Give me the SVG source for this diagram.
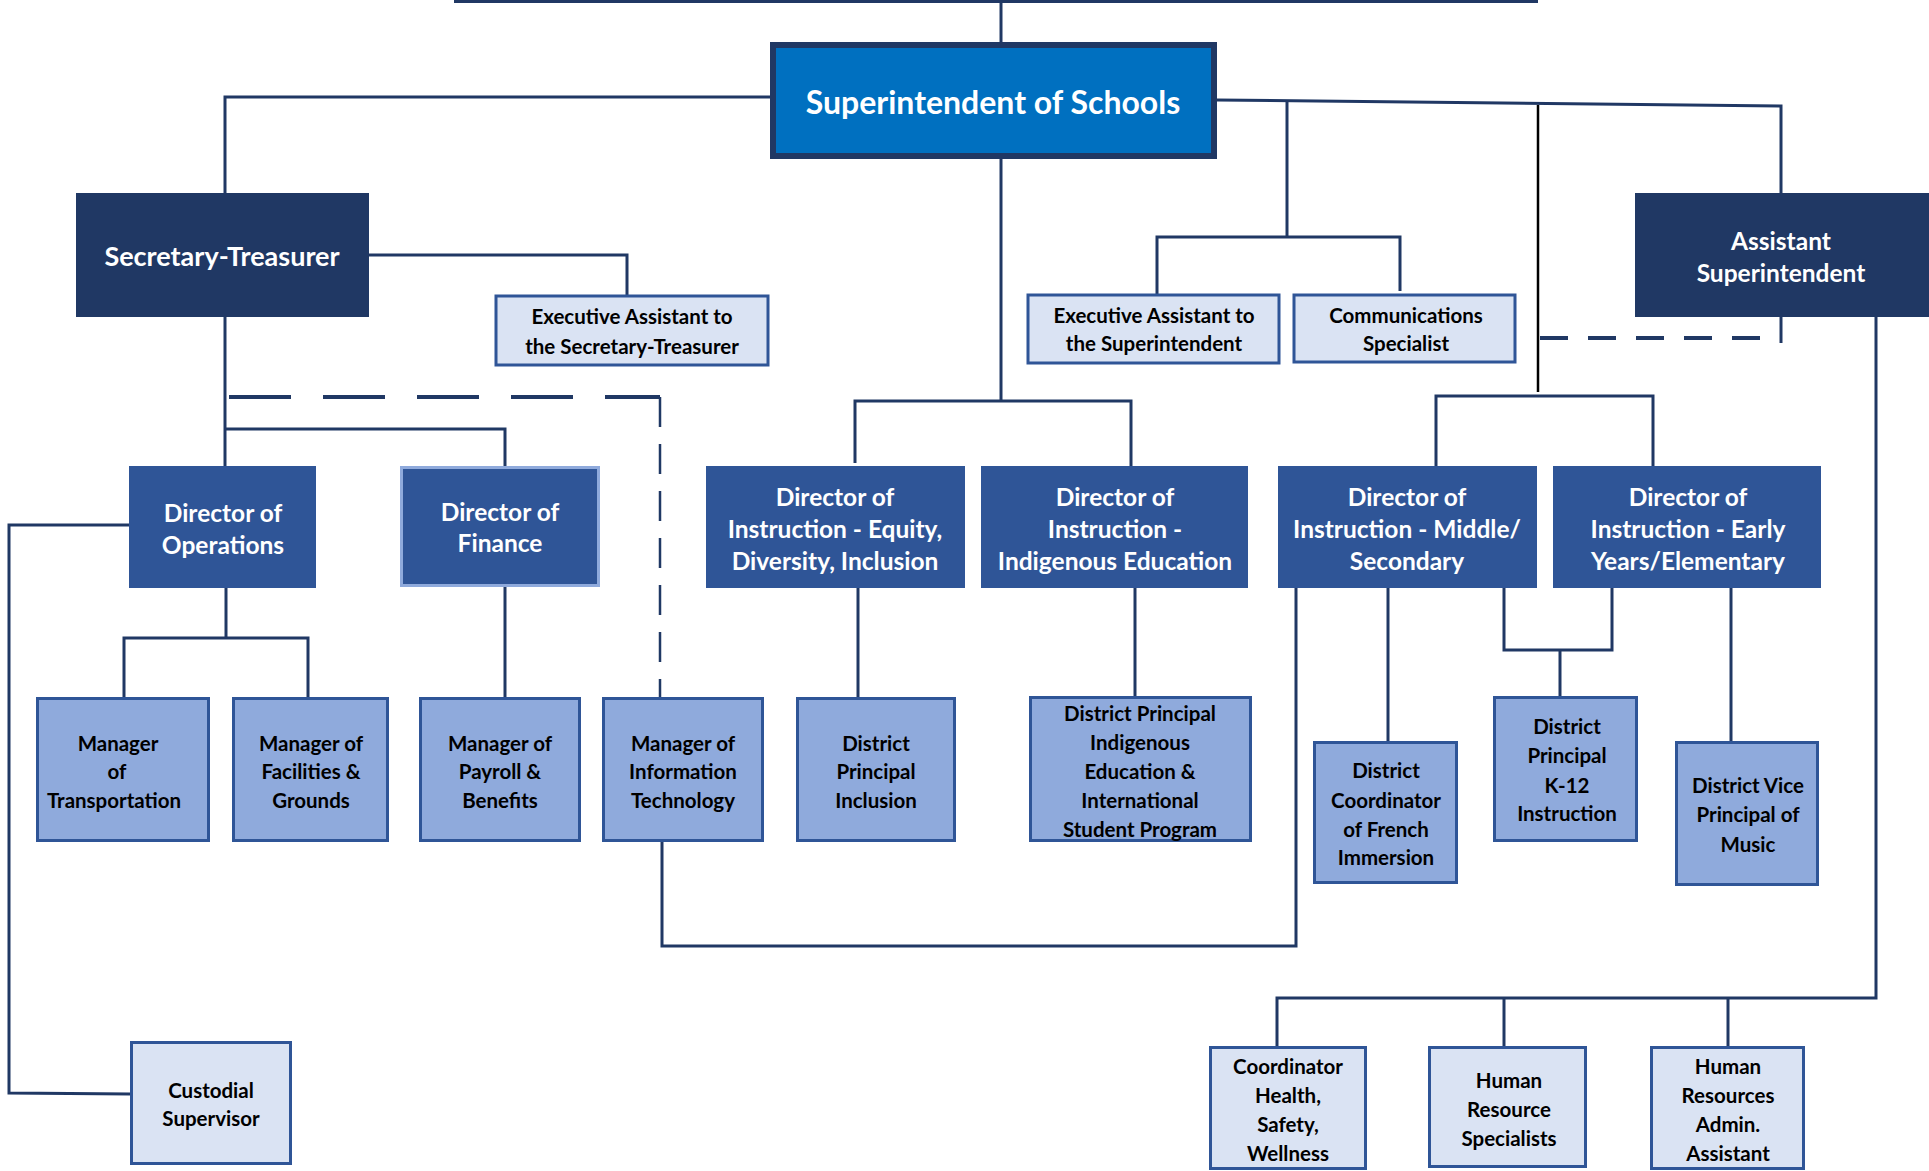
<svg xmlns="http://www.w3.org/2000/svg" width="1929" height="1171" viewBox="0 0 1929 1171">
<style>
text{font-family:Lato,"Noto Sans","Liberation Sans",sans-serif;font-weight:bold;text-anchor:middle;dominant-baseline:central}
.w{fill:#fff}.k{fill:#000}
.t1{font-size:32px}.t2{font-size:27px}.t3{font-size:24.5px}.t4{font-size:20.5px}
.navy{fill:#203864}
.dir{fill:#2F5597}
.mgr{fill:#8FAADC;stroke:#2F5597;stroke-width:3}
.lt{fill:#DAE3F3;stroke:#2F5597;stroke-width:3}
.c{fill:none;stroke:#203864;stroke-width:3;stroke-linejoin:miter}
.d1{stroke-dasharray:62 32;stroke-width:4}
.d2{stroke-dasharray:30 17;stroke-width:2.5}
.d3{stroke-dasharray:28 20;stroke-width:4}
</style>
<rect width="1929" height="1171" fill="#fff"/>
<g id="connectors">
<path class="c" d="M454 1.5H1538" stroke="#2F5597"/>
<path class="c" d="M1001 0V42"/>
<path class="c" d="M770 97H225V193" stroke-width="4"/>
<path class="c" d="M369 255H627V296" stroke-width="4"/>
<path class="c" d="M1217 100L1781 106V193" stroke-width="4"/>
<path class="c" d="M1287 101V237"/>
<path class="c" d="M1157 296V237H1400V291" stroke-width="3.5"/>
<path d="M1538 105V392" fill="none" stroke="#000" stroke-width="2.5"/>
<path class="c" d="M1436 466V396H1653V466" stroke-width="3.5"/>
<path class="c d3" d="M1540 338H1781"/>
<path class="c" d="M1781 317V343"/>
<path class="c" d="M1876 317V998H1277V1046" stroke-width="4"/>
<path class="c" d="M1504 998V1046"/>
<path class="c" d="M1728 998V1046"/>
<path class="c" d="M225 317V466"/>
<path class="c d1" d="M229 397H660"/>
<path class="c d2" d="M660 397V697"/>
<path class="c" d="M225 429H505V466" stroke-width="3.5"/>
<path class="c" d="M129 525H9V1093L130 1094" stroke-width="3.5"/>
<path class="c" d="M226 588V638"/>
<path class="c" d="M124 697V638H308V697" stroke-width="3.5"/>
<path class="c" d="M505 587V697"/>
<path class="c" d="M1001 159V401"/>
<path class="c" d="M855 463V401H1131V466" stroke-width="3.5"/>
<path class="c" d="M858 588V697"/>
<path class="c" d="M1135 588V696"/>
<path class="c" d="M1296 588V946H662V842" stroke-width="3.5"/>
<path class="c" d="M1388 588V741"/>
<path class="c" d="M1504 588V650H1612V588" stroke-width="3.5"/>
<path class="c" d="M1560 650V696"/>
<path class="c" d="M1731 588V741"/>
</g>
<g id="superintendent"><rect x="773" y="45" width="441" height="111" fill="#0070C0" stroke="#203864" stroke-width="6"/><text class="w t1" x="993" y="101">Superintendent of Schools</text></g>
<g id="secretary-treasurer"><rect class="navy" x="76" y="193" width="293" height="124"/><text class="w t2" x="222" y="255">Secretary-Treasurer</text></g>
<g id="exec-asst-sec"><rect class="lt" x="496" y="296" width="272" height="69"/><text class="k t4" x="632" y="316">Executive Assistant to</text><text class="k t4" x="632" y="346">the Secretary-Treasurer</text></g>
<g id="exec-asst-sup"><rect class="lt" x="1028" y="295" width="251" height="68"/><text class="k t4" x="1154" y="315">Executive Assistant to</text><text class="k t4" x="1154" y="343">the Superintendent</text></g>
<g id="communications"><rect class="lt" x="1294" y="295" width="221" height="67"/><text class="k t4" x="1406" y="315">Communications</text><text class="k t4" x="1406" y="343">Specialist</text></g>
<g id="asst-superintendent"><rect class="navy" x="1635" y="193" width="300" height="124"/><text class="w t3" x="1781" y="240">Assistant</text><text class="w t3" x="1781" y="272">Superintendent</text></g>
<g id="dir-operations"><rect class="dir" x="129" y="466" width="187" height="122"/><text class="w t3" x="223" y="512">Director of</text><text class="w t3" x="223" y="544">Operations</text></g>
<g id="dir-finance"><rect class="dir" x="401.5" y="467.5" width="197" height="118" stroke="#8FAADC" stroke-width="3"/><text class="w t3" x="500" y="511">Director of</text><text class="w t3" x="500" y="542">Finance</text></g>
<g id="dir-edi"><rect class="dir" x="706" y="466" width="259" height="122"/><text class="w t3" x="835" y="496">Director of</text><text class="w t3" x="835" y="528">Instruction - Equity,</text><text class="w t3" x="835" y="560">Diversity, Inclusion</text></g>
<g id="dir-indigenous"><rect class="dir" x="981" y="466" width="267" height="122"/><text class="w t3" x="1115" y="496">Director of</text><text class="w t3" x="1115" y="528">Instruction -</text><text class="w t3" x="1115" y="560">Indigenous Education</text></g>
<g id="dir-middle"><rect class="dir" x="1278" y="466" width="259" height="122"/><text class="w t3" x="1407" y="496">Director of</text><text class="w t3" x="1407" y="528">Instruction - Middle/</text><text class="w t3" x="1407" y="560">Secondary</text></g>
<g id="dir-early"><rect class="dir" x="1553" y="466" width="268" height="122"/><text class="w t3" x="1688" y="496">Director of</text><text class="w t3" x="1688" y="528">Instruction - Early</text><text class="w t3" x="1688" y="560">Years/Elementary</text></g>
<g id="mgr-transport"><rect class="mgr" x="37.5" y="698.5" width="171" height="142"/><text class="k t4" x="118" y="743">Manager</text><text class="k t4" x="117" y="771">of</text><text class="k t4" x="114" y="800">Transportation</text></g>
<g id="mgr-facilities"><rect class="mgr" x="233.5" y="698.5" width="154" height="142"/><text class="k t4" x="311" y="743">Manager of</text><text class="k t4" x="311" y="771">Facilities &amp;</text><text class="k t4" x="311" y="800">Grounds</text></g>
<g id="mgr-payroll"><rect class="mgr" x="420.5" y="698.5" width="159" height="142"/><text class="k t4" x="500" y="743">Manager of</text><text class="k t4" x="500" y="771">Payroll &amp;</text><text class="k t4" x="500" y="800">Benefits</text></g>
<g id="mgr-it"><rect class="mgr" x="603.5" y="698.5" width="159" height="142"/><text class="k t4" x="683" y="743">Manager of</text><text class="k t4" x="683" y="771">Information</text><text class="k t4" x="683" y="800">Technology</text></g>
<g id="dp-inclusion"><rect class="mgr" x="797.5" y="698.5" width="157" height="142"/><text class="k t4" x="876" y="743">District</text><text class="k t4" x="876" y="771">Principal</text><text class="k t4" x="876" y="800">Inclusion</text></g>
<g id="dp-indigenous"><rect class="mgr" x="1030.5" y="697.5" width="220" height="143"/><text class="k t4" x="1140" y="713">District Principal</text><text class="k t4" x="1140" y="742">Indigenous</text><text class="k t4" x="1140" y="771">Education &amp;</text><text class="k t4" x="1140" y="800">International</text><text class="k t4" x="1140" y="829">Student Program</text></g>
<g id="coord-french"><rect class="mgr" x="1314.5" y="742.5" width="142" height="140"/><text class="k t4" x="1386" y="770">District</text><text class="k t4" x="1386" y="800">Coordinator</text><text class="k t4" x="1386" y="829">of French</text><text class="k t4" x="1386" y="857">Immersion</text></g>
<g id="dp-k12"><rect class="mgr" x="1494.5" y="697.5" width="142" height="143"/><text class="k t4" x="1567" y="726">District</text><text class="k t4" x="1567" y="755">Principal</text><text class="k t4" x="1567" y="785">K-12</text><text class="k t4" x="1567" y="813">Instruction</text></g>
<g id="dvp-music"><rect class="mgr" x="1676.5" y="742.5" width="141" height="142"/><text class="k t4" x="1748" y="785">District Vice</text><text class="k t4" x="1748" y="814">Principal of</text><text class="k t4" x="1748" y="844">Music</text></g>
<g id="custodial"><rect class="lt" x="131.5" y="1042.5" width="159" height="121"/><text class="k t4" x="211" y="1090">Custodial</text><text class="k t4" x="211" y="1118">Supervisor</text></g>
<g id="coord-health"><rect class="lt" x="1210.5" y="1047.5" width="155" height="121"/><text class="k t4" x="1288" y="1066">Coordinator</text><text class="k t4" x="1288" y="1095">Health,</text><text class="k t4" x="1288" y="1124">Safety,</text><text class="k t4" x="1288" y="1153">Wellness</text></g>
<g id="hr-specialists"><rect class="lt" x="1429.5" y="1047.5" width="156" height="119"/><text class="k t4" x="1509" y="1080">Human</text><text class="k t4" x="1509" y="1109">Resource</text><text class="k t4" x="1509" y="1138">Specialists</text></g>
<g id="hr-admin"><rect class="lt" x="1651.5" y="1047.5" width="152" height="121"/><text class="k t4" x="1728" y="1066">Human</text><text class="k t4" x="1728" y="1095">Resources</text><text class="k t4" x="1728" y="1124">Admin.</text><text class="k t4" x="1728" y="1153">Assistant</text></g>
</svg>
